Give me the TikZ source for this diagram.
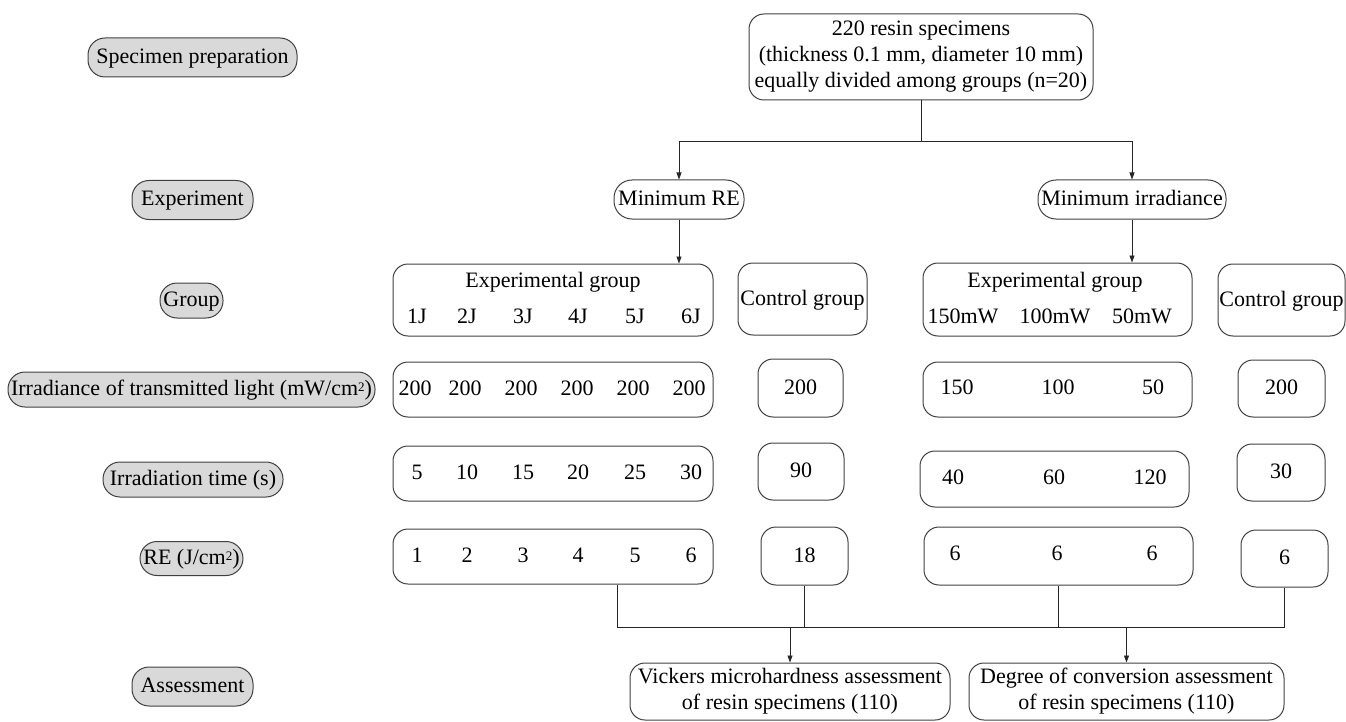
\documentclass[tikz,border=0pt]{standalone}
\usepackage{fontspec}
\setmainfont{Liberation Serif}
\usetikzlibrary{arrows.meta}
\newcommand{\sqtwo}{\raisebox{4pt}{\fontsize{13}{13}\selectfont 2}}
\begin{document}
\begin{tikzpicture}[x=1pt,y=-1pt,
  font=\fontsize{22}{26}\selectfont,
  lab/.style={draw=black!75, fill=gray!30, rounded corners=17pt, minimum height=35pt, inner sep=0pt, line width=1pt, text height=16pt, text depth=4pt},
  box/.style={draw=black!75, rounded corners=15pt, inner sep=0pt, line width=1pt},
  pill/.style={box, rounded corners=18pt, text height=16pt, text depth=4pt},
  txt/.style={inner sep=0pt, text height=16pt, text depth=4pt},
  con/.style={line width=0.8pt, draw=black!85},
  arr/.style={con, -{Triangle[length=7pt,width=5pt]}}
]
\useasboundingbox (0,0) rectangle (1346,722);

% left labels
\node[lab, minimum width=209pt, minimum height=39pt] (L1) at (192.5,57.5) {Specimen preparation};
\node[lab, minimum width=121pt, minimum height=39pt] (L2) at (192.5,200) {Experiment};
\node[lab, minimum width=63pt] (L3) at (191.5,300.5) {Group};
\node[lab, minimum width=367pt] (L4) at (191.5,389.5) {Irradiance of transmitted light (mW/cm\sqtwo)};
\node[lab, minimum width=180pt] (L5) at (193,479.5) {Irradiation time (s)};
\node[lab, minimum width=103pt, minimum height=34pt] (L6) at (191.5,558.5) {RE (J/cm\sqtwo)};
\node[lab, minimum width=121pt, minimum height=39pt] (L7) at (192.5,686.5) {Assessment};

% top
\node[box, minimum width=344pt, minimum height=86pt, align=center] (top) at (921,57)
  {220 resin specimens\\(thickness 0.1 mm, diameter 10 mm)\\equally divided among groups (n=20)};
\node[pill, minimum width=130pt, minimum height=39pt] (mre) at (679,199.5) {Minimum RE};
\node[pill, minimum width=188pt, minimum height=39pt] (mir) at (1132,199.5) {Minimum irradiance};

% group row
\node[box, minimum width=320pt, minimum height=72pt] (g1) at (553,300) {};
\node[txt] (g1t) at (553,281) {Experimental group};
\foreach \x/\t [count=\i] in {417/1J,467/2J,523/3J,578/4J,635/5J,691/6J}
  \node[txt] (g1v\i) at (\x,317) {\t};
\node[box, minimum width=129pt, minimum height=72pt, txt] (gc1) at (802.5,299) {Control group};
\node[box, minimum width=269pt, minimum height=73pt] (g2) at (1057.5,299.5) {};
\node[txt] (g2t) at (1055,281) {Experimental group};
\foreach \x/\t [count=\i] in {963/150mW,1055/100mW,1142/50mW}
  \node[txt] (g2v\i) at (\x,317) {\t};
\node[box, minimum width=127pt, minimum height=72pt, txt] (gc2) at (1281.5,300) {Control group};

% irradiance row
\node[box, minimum width=320pt, minimum height=55pt] (i1) at (553,389.5) {};
\foreach \x [count=\i] in {415,465,521,577,633,689}
  \node[txt] (i1v\i) at (\x,389) {200};
\node[box, minimum width=85pt, minimum height=58pt, txt] (ic1) at (800.5,388) {200};
\node[box, minimum width=269pt, minimum height=55pt] (i2) at (1057.5,389.5) {};
\foreach \x/\t [count=\i] in {957/150,1058/100,1153/50}
  \node[txt] (i2v\i) at (\x,388) {\t};
\node[box, minimum width=87pt, minimum height=57pt, txt] (ic2) at (1281.5,388.5) {200};

% time row
\node[box, minimum width=320pt, minimum height=55pt] (t1) at (553,473.5) {};
\foreach \x/\t [count=\i] in {417/5,467/10,523/15,578/20,635/25,691/30}
  \node[txt] (t1v\i) at (\x,473) {\t};
\node[box, minimum width=86pt, minimum height=57pt, txt] (tc1) at (801,471.5) {90};
\node[box, minimum width=269pt, minimum height=56pt] (t2) at (1054.5,479) {};
\foreach \x/\t [count=\i] in {953/40,1054/60,1150/120}
  \node[txt] (t2v\i) at (\x,478) {\t};
\node[box, minimum width=88pt, minimum height=57pt, txt] (tc2) at (1281,472.5) {30};

% RE row
\node[box, minimum width=320pt, minimum height=55pt] (r1) at (553,556.5) {};
\foreach \x/\t [count=\i] in {417/1,467/2,523/3,578/4,635/5,691/6}
  \node[txt] (r1v\i) at (\x,556) {\t};
\node[box, minimum width=87pt, minimum height=58pt, txt] (rc1) at (804.5,556) {18};
\node[box, minimum width=269pt, minimum height=58pt] (r2) at (1058.5,556) {};
\foreach \x [count=\i] in {955,1057,1152}
  \node[txt] (r2v\i) at (\x,554) {6};
\node[box, minimum width=87pt, minimum height=57pt, txt] (rc2) at (1284.5,558.5) {6};

% assessment
\node[box, minimum width=320pt, minimum height=57pt, align=center] (vk) at (790,691.5)
  {Vickers microhardness assessment\\of resin specimens (110)};
\node[box, minimum width=315pt, minimum height=57pt, align=center] (dc) at (1126.5,691.5)
  {Degree of conversion assessment\\of resin specimens (110)};

% connectors top
\coordinate (j1) at (921,141);
\draw[con] (top.south) -- (j1);
\draw[arr] (j1) -| (mre.north);
\draw[arr] (j1) -| (mir.north);
\draw[arr] (mre.south) -- (mre.south |- g1.north);
\draw[arr] (mir.south) -- (mir.south |- g2.north);

% connectors bottom
\coordinate (d1) at (617,627);
\draw[con] (d1 |- r1.south) -- (d1);
\draw[con] (rc1.south) -- (rc1.south |- d1);
\draw[con] (r2.south) -- (r2.south |- d1);
\draw[con] (rc2.south) -- (rc2.south |- d1);
\draw[con] (d1) -- (rc2.south |- d1);
\draw[arr] (vk.north |- d1) -- (vk.north);
\draw[arr] (dc.north |- d1) -- (dc.north);
\end{tikzpicture}
\end{document}
